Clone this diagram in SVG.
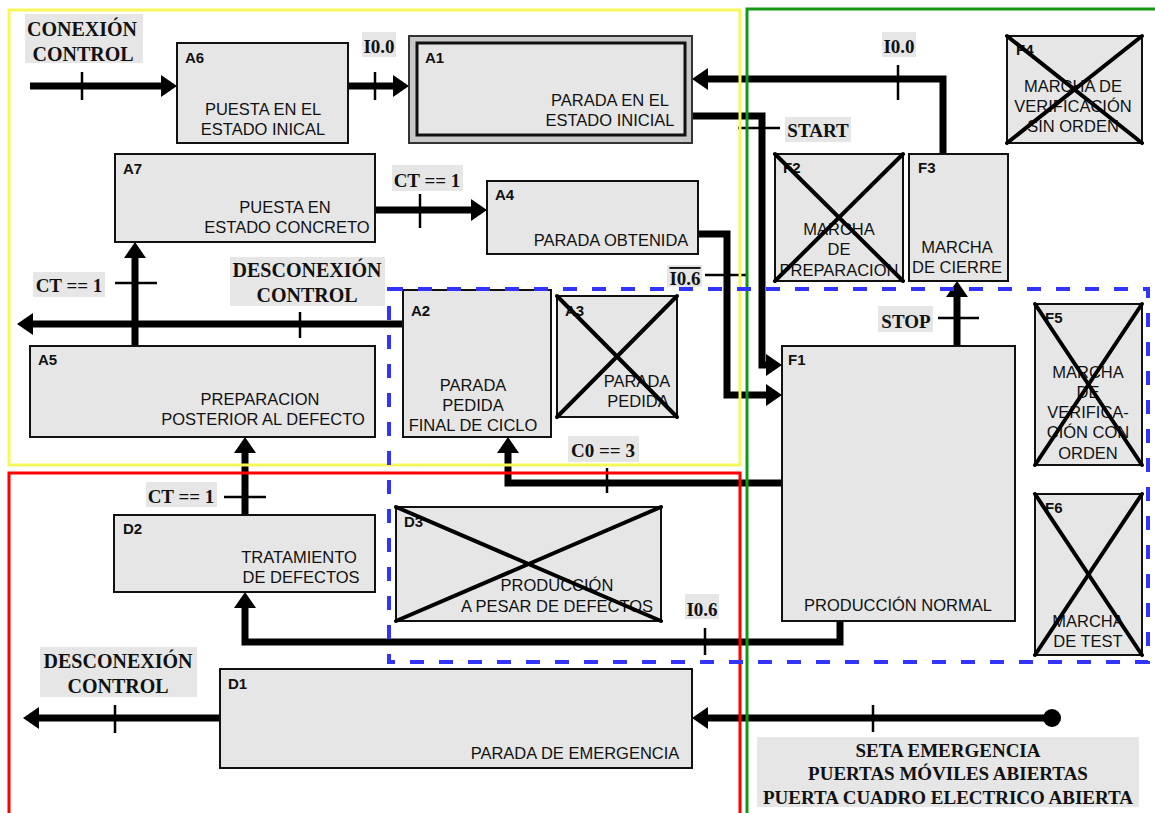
<svg xmlns="http://www.w3.org/2000/svg" width="1155" height="813" viewBox="0 0 1155 813">
<style>
.n{fill:#e6e6e6;stroke:#111;stroke-width:2}
.x{stroke:#000;stroke-width:4;stroke-linecap:round}
.id{font-family:"Liberation Sans",Arial,sans-serif;font-size:15px;font-weight:bold;fill:#111}
.tx{font-family:"Liberation Sans",Arial,sans-serif;font-size:16.5px;fill:#111;text-anchor:middle}
.w{fill:none;stroke:#000;stroke-width:7;stroke-linejoin:miter}
.t{stroke:#000;stroke-width:2.5}
.lb{fill:#e6e6e6}
.lt{font-family:"Liberation Serif","Times New Roman",serif;font-size:19px;font-weight:bold;fill:#111;text-anchor:middle}
.lt2{font-family:"Liberation Serif","Times New Roman",serif;font-size:20px;font-weight:bold;fill:#111;text-anchor:middle}
</style>
<defs>
<marker id="ah" markerUnits="userSpaceOnUse" markerWidth="18" markerHeight="24" refX="0" refY="11" orient="auto"><path d="M0,0 L16,11 L0,22 z" fill="#000"/></marker>
</defs>
<rect width="1155" height="813" fill="#fff"/>

<g id="connectors">
<path class="w" d="M30,86 H161" marker-end="url(#ah)"/>
<path class="w" d="M348,86 H393" marker-end="url(#ah)"/>
<path class="w" d="M943,154 V79 H708" marker-end="url(#ah)"/>
<path class="w" d="M692,116 H762 V365 H766" marker-end="url(#ah)"/>
<path class="w" d="M375,210 H471" marker-end="url(#ah)"/>
<path class="w" d="M698,234 H727 V395 H766" marker-end="url(#ah)"/>
<path class="w" d="M135,346 V258" marker-end="url(#ah)"/>
<path class="w" d="M403,324 H33" marker-end="url(#ah)"/>
<path class="w" d="M245,515 V453" marker-end="url(#ah)"/>
<path class="w" d="M782,483 H508 V453" marker-end="url(#ah)"/>
<path class="w" d="M840,621 V642 H245 V608" marker-end="url(#ah)"/>
<path class="w" d="M1052,718 H708" marker-end="url(#ah)"/>
<circle cx="1052" cy="718" r="9" fill="#000"/>
<path class="w" d="M220,718 H39" marker-end="url(#ah)"/>
<path class="w" d="M957,346 V297" marker-end="url(#ah)"/>
<line class="t" x1="82" y1="72" x2="82" y2="100"/>
<line class="t" x1="375" y1="72" x2="375" y2="100"/>
<line class="t" x1="898" y1="65" x2="898" y2="100"/>
<line class="t" x1="738" y1="128" x2="780" y2="128"/>
<line class="t" x1="420" y1="194" x2="420" y2="228"/>
<line class="t" x1="705" y1="275" x2="747" y2="275"/>
<line class="t" x1="115" y1="283" x2="157" y2="283"/>
<line class="t" x1="300" y1="312" x2="300" y2="338"/>
<line class="t" x1="224" y1="497" x2="266" y2="497"/>
<line class="t" x1="607" y1="468" x2="607" y2="493"/>
<line class="t" x1="705" y1="628" x2="705" y2="655"/>
<line class="t" x1="873" y1="705" x2="873" y2="732"/>
<line class="t" x1="115" y1="705" x2="115" y2="733"/>
<line class="t" x1="938" y1="318" x2="979" y2="318"/>
</g>

<g id="labels">
<rect class="lb" x="25" y="14" width="118" height="49"/>
<text class="lt2" x="82" y="36">CONEXIÓN</text>
<text class="lt2" x="83" y="61">CONTROL</text>
<rect class="lb" x="362" y="32" width="34" height="25"/>
<text class="lt" x="379" y="53">I0.0</text>
<rect class="lb" x="882" y="32" width="34" height="25"/>
<text class="lt" x="899" y="53">I0.0</text>
<rect class="lb" x="785" y="117" width="66" height="25"/>
<text class="lt" x="818" y="137">START</text>
<rect class="lb" x="392" y="165" width="71" height="26"/>
<text class="lt" x="427" y="187">CT == 1</text>
<rect class="lb" x="667" y="265" width="35" height="22"/>
<text class="lt" x="685" y="285" text-decoration="overline">I0.6</text>
<rect class="lb" x="33" y="272" width="72" height="25"/>
<text class="lt" x="69" y="292">CT == 1</text>
<rect class="lb" x="230" y="257" width="155" height="49"/>
<text class="lt2" x="307" y="277">DESCONEXIÓN</text>
<text class="lt2" x="307" y="302">CONTROL</text>
<rect class="lb" x="878" y="306" width="55" height="26"/>
<text class="lt" x="906" y="328">STOP</text>
<rect class="lb" x="568" y="436" width="71" height="26"/>
<text class="lt" x="603" y="457">C0 == 3</text>
<rect class="lb" x="146" y="482" width="71" height="25"/>
<text class="lt" x="181" y="503">CT == 1</text>
<rect class="lb" x="685" y="594" width="34" height="25"/>
<text class="lt" x="702" y="616">I0.6</text>
<rect class="lb" x="40" y="647" width="157" height="50"/>
<text class="lt2" x="118" y="668">DESCONEXIÓN</text>
<text class="lt2" x="118" y="693">CONTROL</text>
<rect class="lb" x="757" y="737" width="382" height="70"/>
<text class="lt" x="948" y="757">SETA EMERGENCIA</text>
<text class="lt" x="948" y="780">PUERTAS MÓVILES ABIERTAS</text>
<text class="lt" x="948" y="804">PUERTA CUADRO ELECTRICO ABIERTA</text>
</g>

<g id="A6">
<rect class="n" x="177" y="43" width="171" height="100"/>
<text class="id" x="185" y="63">A6</text>
<text class="tx" x="263" y="115">PUESTA EN EL</text>
<text class="tx" x="263" y="135">ESTADO INICAL</text>
</g>
<g id="A1">
<rect x="409" y="36" width="283" height="107" fill="#c8c8c8" stroke="#333" stroke-width="2"/>
<rect x="417" y="43" width="268" height="92" fill="#e6e6e6" stroke="#111" stroke-width="3"/>
<text class="id" x="425" y="63">A1</text>
<text class="tx" x="610" y="106">PARADA EN EL</text>
<text class="tx" x="610" y="126">ESTADO INICIAL</text>
</g>
<g id="A7">
<rect class="n" x="115" y="154" width="260" height="88"/>
<text class="id" x="123" y="174">A7</text>
<text class="tx" x="285" y="213">PUESTA EN</text>
<text class="tx" x="287" y="233">ESTADO CONCRETO</text>
</g>
<g id="A4">
<rect class="n" x="487" y="181" width="211" height="73"/>
<text class="id" x="495" y="200">A4</text>
<text class="tx" x="611" y="246">PARADA OBTENIDA</text>
</g>
<g id="A5">
<rect class="n" x="30" y="346" width="345" height="91"/>
<text class="id" x="38" y="365">A5</text>
<text class="tx" x="260" y="405">PREPARACION</text>
<text class="tx" x="263" y="425">POSTERIOR AL DEFECTO</text>
</g>
<g id="A2">
<rect class="n" x="403" y="290" width="148" height="147"/>
<text class="id" x="411" y="316">A2</text>
<text class="tx" x="473" y="391">PARADA</text>
<text class="tx" x="473" y="411">PEDIDA</text>
<text class="tx" x="473" y="431">FINAL DE CICLO</text>
</g>
<g id="A3">
<rect class="n" x="557" y="296" width="120" height="121"/>
<text class="id" x="565" y="316">A3</text>
<text class="tx" x="637" y="387">PARADA</text>
<text class="tx" x="638" y="407">PEDIDA</text>
<line class="x" x1="557" y1="296" x2="677" y2="417"/>
<line class="x" x1="677" y1="296" x2="557" y2="417"/>
</g>
<g id="F2">
<rect class="n" x="775" y="154" width="128" height="127"/>
<text class="id" x="783" y="173">F2</text>
<text class="tx" x="839" y="235">MARCHA</text>
<text class="tx" x="839" y="255">DE</text>
<text class="tx" x="839" y="276">PREPARACION</text>
<line class="x" x1="775" y1="154" x2="903" y2="281"/>
<line class="x" x1="903" y1="154" x2="775" y2="281"/>
</g>
<g id="F3">
<rect class="n" x="909" y="154" width="99" height="127"/>
<text class="id" x="918" y="173">F3</text>
<text class="tx" x="957" y="253">MARCHA</text>
<text class="tx" x="957" y="273">DE CIERRE</text>
</g>
<g id="F4">
<rect class="n" x="1007" y="36" width="135" height="107"/>
<text class="id" x="1016" y="55">F4</text>
<text class="tx" x="1073" y="92">MARCHA DE</text>
<text class="tx" x="1073" y="112">VERIFICACIÓN</text>
<text class="tx" x="1073" y="132">SIN ORDEN</text>
<line class="x" x1="1007" y1="36" x2="1142" y2="143"/>
<line class="x" x1="1142" y1="36" x2="1007" y2="143"/>
</g>
<g id="F1">
<rect class="n" x="782" y="346" width="233" height="275"/>
<text class="id" x="788" y="365">F1</text>
<text class="tx" x="898" y="611">PRODUCCIÓN NORMAL</text>
</g>
<g id="F5">
<rect class="n" x="1035" y="304" width="107" height="161"/>
<text class="id" x="1045" y="323">F5</text>
<text class="tx" x="1088" y="378">MARCHA</text>
<text class="tx" x="1088" y="398">DE</text>
<text class="tx" x="1088" y="418">VERIFICA-</text>
<text class="tx" x="1088" y="438">CIÓN CON</text>
<text class="tx" x="1088" y="459">ORDEN</text>
<line class="x" x1="1035" y1="304" x2="1142" y2="465"/>
<line class="x" x1="1142" y1="304" x2="1035" y2="465"/>
</g>
<g id="F6">
<rect class="n" x="1035" y="494" width="107" height="161"/>
<text class="id" x="1045" y="513">F6</text>
<text class="tx" x="1088" y="627">MARCHA</text>
<text class="tx" x="1088" y="647">DE TEST</text>
<line class="x" x1="1035" y1="494" x2="1142" y2="655"/>
<line class="x" x1="1142" y1="494" x2="1035" y2="655"/>
</g>
<g id="D2">
<rect class="n" x="114" y="515" width="261" height="77"/>
<text class="id" x="123" y="534">D2</text>
<text class="tx" x="299" y="563">TRATAMIENTO</text>
<text class="tx" x="301" y="583">DE DEFECTOS</text>
</g>
<g id="D3">
<rect class="n" x="396" y="507" width="265" height="114"/>
<text class="id" x="404" y="527">D3</text>
<text class="tx" x="557" y="591">PRODUCCIÓN</text>
<text class="tx" x="557" y="612">A PESAR DE DEFECTOS</text>
<line class="x" x1="396" y1="507" x2="661" y2="621"/>
<line class="x" x1="661" y1="507" x2="396" y2="621"/>
</g>
<g id="D1">
<rect class="n" x="220" y="669" width="472" height="99"/>
<text class="id" x="228" y="689">D1</text>
<text class="tx" x="575" y="759">PARADA DE EMERGENCIA</text>
</g>

<g id="frames" fill="none">
<rect x="9" y="10" width="731" height="455" stroke="#f7f75a" stroke-width="3"/>
<polyline points="9,813 9,473 740,473 740,813" stroke="#ff0000" stroke-width="3"/>
<polyline points="747,813 747,9 1155,9" stroke="#119911" stroke-width="3"/>
<rect x="389" y="289" width="759" height="373" stroke="#3333ff" stroke-width="4" stroke-dasharray="14 15"/>
</g>
</svg>
